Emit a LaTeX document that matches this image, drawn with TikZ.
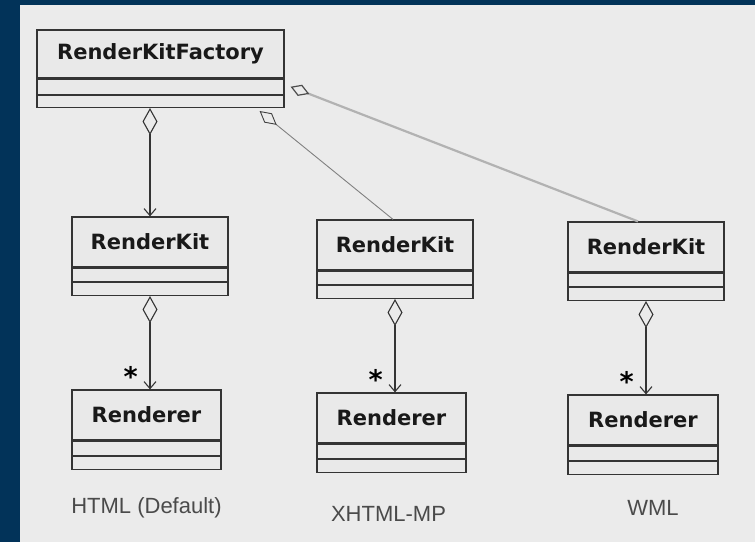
\documentclass[tikz,border=0pt]{standalone}
\usepackage{fontspec}
\setmainfont{Liberation Sans}
\newfontfamily\umlfont{DejaVu Sans}
\usetikzlibrary{arrows.meta,positioning}

\definecolor{frameblue}{HTML}{023359}
\definecolor{panelgray}{HTML}{EBEBEB}
\definecolor{boxfill}{HTML}{E9E9E9}
\definecolor{boxline}{HTML}{343434}
\definecolor{labelgray}{HTML}{4A4A4A}

\tikzset{
  classname/.style={draw=boxline, fill=boxfill, line width=1.2pt,
                    inner sep=0pt, minimum width=#1, minimum height=50pt,
                    text=black!90, font=\umlfont\bfseries\fontsize{21}{24}\selectfont},
  compartment/.style={draw=boxline, fill=boxfill, line width=1.2pt,
                      inner sep=0pt, minimum width=#1, minimum height=13pt},
  aggr/.style={draw=boxline, line width=1.1pt,
               {Diamond[open,length=27pt,width=15pt]}-{Straight Barb[length=7pt,width=12pt]}},
  aggrlight/.style={line width=0.9pt, draw=black!50,
                    {Diamond[open,length=22pt,width=12pt,color=black!75]}-},
  aggrwide/.style={line width=2.2pt, draw=black!30,
                   {Diamond[open,length=20pt,width=12pt,line width=1.2pt,color=black!70]}-},
  mult/.style={inner sep=0pt, font=\umlfont\bfseries\fontsize{27}{27}\selectfont},
  variant/.style={inner sep=0pt, text=labelgray, font=\fontsize{22}{24}\selectfont}
}

\begin{document}
\begin{tikzpicture}[x=1pt, y=-1pt]
  \useasboundingbox (0,0) rectangle (755,542);
  \fill[frameblue] (0,0) rectangle (755,542);
  \fill[panelgray] (20,5) rectangle (755,542);

% level 1

\node[classname=247pt, minimum height=48pt] (facName) at (160.5,54) {RenderKitFactory};
\node[compartment=247pt, minimum height=15pt, below=0pt of facName] (facAttr) {};
\node[compartment=247pt, minimum height=12pt, below=0pt of facAttr] (facOps) {};

% level 2

\node[classname=156pt] (kitA) at (150,242) {RenderKit};
\node[compartment=156pt, below=0pt of kitA] (kitAattr) {};
\node[compartment=156pt, below=0pt of kitAattr] (kitAops) {};

\node[classname=156pt] (kitB) at (395,245) {RenderKit};
\node[compartment=156pt, below=0pt of kitB] (kitBattr) {};
\node[compartment=156pt, below=0pt of kitBattr] (kitBops) {};

\node[classname=156pt] (kitC) at (646,247) {RenderKit};
\node[compartment=156pt, below=0pt of kitC] (kitCattr) {};
\node[compartment=156pt, below=0pt of kitCattr] (kitCops) {};

% level 3

\node[classname=149pt] (renA) at (146.5,415) {Renderer};
\node[compartment=149pt, minimum height=14pt, below=0pt of renA] (renAattr) {};
\node[compartment=149pt, below=0pt of renAattr] (renAops) {};

\node[classname=149pt] (renB) at (391.5,418) {Renderer};
\node[compartment=149pt, minimum height=14pt, below=0pt of renB] (renBattr) {};
\node[compartment=149pt, below=0pt of renBattr] (renBops) {};

\node[classname=150pt] (renC) at (643,420) {Renderer};
\node[compartment=150pt, minimum height=14pt, below=0pt of renC] (renCattr) {};
\node[compartment=150pt, below=0pt of renCattr] (renCops) {};

% labels

\node[variant, below=27pt of renAops] (htmlLabel) {HTML (Default)};
\node[variant, below=33pt of renBops, xshift=-3pt] (xhtmlLabel) {XHTML-MP};
\node[variant, below=25pt of renCops, xshift=10pt] (wmlLabel) {WML};

% factory - kits

\coordinate (aggB) at ([xshift=-25pt,yshift=-3pt]facOps.south east);
\coordinate (aggC) at ([xshift=6pt]facAttr.east);
\coordinate (endB) at ([xshift=-2pt]kitB.north);
\coordinate (endC) at ([xshift=-8pt]kitC.north);

\draw[aggr] (facOps.south -| kitA.north) -- (kitA.north);
\draw[aggrlight] (aggB) -- (endB);
\draw[aggrwide] (aggC) -- (endC);

% kits - renderers

\coordinate (endA1) at (kitAops.south |- renA.north);
\coordinate (endB1) at (kitBops.south |- renB.north);
\coordinate (endC1) at (kitCops.south |- renC.north);

\draw[aggr] (kitAops.south) -- (endA1);
\draw[aggr] (kitBops.south) -- (endB1);
\draw[aggr] (kitCops.south) -- (endC1);

\node[mult, above left=3pt and 12pt of endA1] (multA) {*};
\node[mult, above left=3pt and 12pt of endB1] (multB) {*};
\node[mult, above left=3pt and 12pt of endC1] (multC) {*};

\end{tikzpicture}
\end{document}
